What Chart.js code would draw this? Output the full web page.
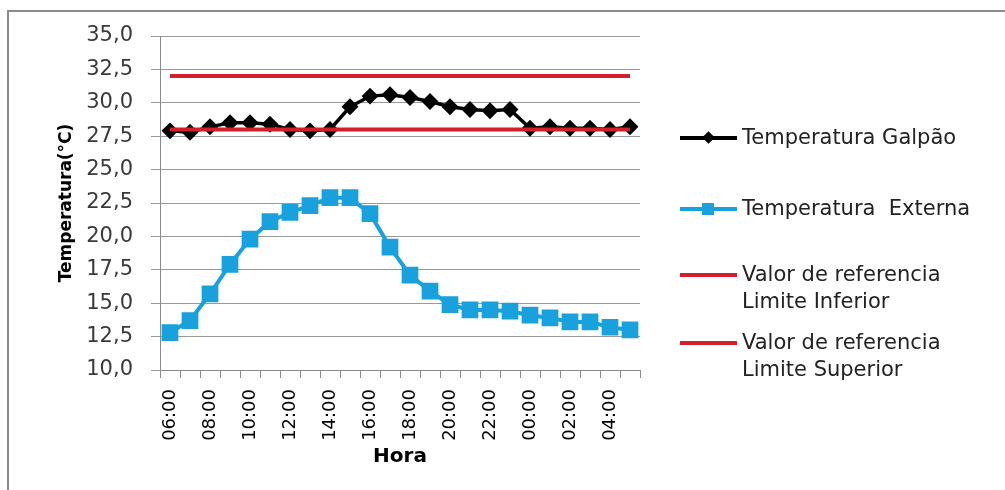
<!DOCTYPE html>
<html>
<head>
    <title>Temperatura Galpão</title>
    <script src="https://cdn.jsdelivr.net/npm/chart.js@4.4.0/dist/chart.umd.min.js"></script>
    <style>
        body { margin: 0; background: #fff; }
        #wrap { position: relative; width: 1005px; height: 490px; overflow: hidden; }
        #frame { position: absolute; left: 7px; top: 10px; width: 1100px; height: 600px;
                 border-top: 2px solid #8a8a8a; border-left: 2px solid #8a8a8a; }
        #chart { position: absolute; left: 0; top: 0; }
        .leg { position: absolute; left: 680px; font-family: "DejaVu Sans", sans-serif;
               font-size: 21px; color: #222; line-height: 27px; }
        .leg .ln { position: absolute; left: 0; width: 57px; height: 4px; }
        .leg .mk { position: absolute; }
        .leg .tx { position: absolute; left: 62px; white-space: pre; }
    </style>
</head>
<body>
<div id="wrap">
    <div id="frame"></div>
    <canvas id="chart" width="1005" height="490"></canvas>
    <div id="legend"></div>
</div>

<script>
    const hours = ['06:00', '07:00', '08:00', '09:00', '10:00', '11:00', '12:00', '13:00',
                   '14:00', '15:00', '16:00', '17:00', '18:00', '19:00', '20:00', '21:00',
                   '22:00', '23:00', '00:00', '01:00', '02:00', '03:00', '04:00', '05:00'];

    const tempGalpao = [27.9, 27.8, 28.2, 28.5, 28.5, 28.4, 28.0, 27.9, 28.0, 29.7, 30.5, 30.6,
                        30.4, 30.1, 29.7, 29.5, 29.4, 29.5, 28.1, 28.2, 28.1, 28.1, 28.0, 28.2];

    const tempExterna = [12.8, 13.7, 15.7, 17.9, 19.8, 21.1, 21.8, 22.3, 22.9, 22.9, 21.7, 19.2,
                         17.1, 15.9, 14.9, 14.5, 14.5, 14.4, 14.1, 13.9, 13.6, 13.6, 13.2, 13.0];

    const limiteInferior = [28.0, 28.0, 28.0, 28.0, 28.0, 28.0, 28.0, 28.0, 28.0, 28.0, 28.0, 28.0,
                            28.0, 28.0, 28.0, 28.0, 28.0, 28.0, 28.0, 28.0, 28.0, 28.0, 28.0, 28.0];

    const limiteSuperior = [32.0, 32.0, 32.0, 32.0, 32.0, 32.0, 32.0, 32.0, 32.0, 32.0, 32.0, 32.0,
                            32.0, 32.0, 32.0, 32.0, 32.0, 32.0, 32.0, 32.0, 32.0, 32.0, 32.0, 32.0];

    const BLACK = '#000000';
    const BLUE = '#18a1dd';
    const RED = '#d2202a';

    const datasets = [
        {
            label: 'Temperatura Galpão',
            data: tempGalpao,
            borderColor: BLACK, backgroundColor: BLACK,
            borderWidth: 3.5, pointStyle: 'rectRot', pointRadius: 6,
            order: 2
        },
        {
            label: 'Temperatura  Externa',
            data: tempExterna,
            borderColor: BLUE, backgroundColor: BLUE,
            borderWidth: 4, pointStyle: 'rect', pointRadius: 9,
            order: 3
        },
        {
            label: ['Valor de referencia', 'Limite Inferior'],
            data: limiteInferior,
            borderColor: RED, backgroundColor: RED,
            borderWidth: 4, pointRadius: 0,
            order: 1
        },
        {
            label: ['Valor de referencia', 'Limite Superior'],
            data: limiteSuperior,
            borderColor: RED, backgroundColor: RED,
            borderWidth: 4, pointRadius: 0,
            order: 1
        }
    ];

    const ctx = document.getElementById('chart').getContext('2d');
    new Chart(ctx, {
        type: 'line',
        data: { labels: hours, datasets: datasets },
        options: {
            responsive: false,
            animation: false,
            layout: { padding: { left: 52, top: 36, right: 365, bottom: 17 } },
            elements: { line: { tension: 0 }, point: { borderWidth: 0 } },
            plugins: { legend: { display: false }, tooltip: { enabled: false } },
            scales: {
                x: {
                    offset: true,
                    grid: { offset: true, drawOnChartArea: false, drawTicks: true,
                            tickLength: 8, color: '#8a8a8a' },
                    border: { color: '#8a8a8a', width: 1 },
                    ticks: {
                        autoSkip: false, minRotation: 90, maxRotation: 90, padding: 11,
                        color: '#000',
                        font: { family: 'DejaVu Sans', size: 18 },
                        callback: (v, i) => (i % 2 === 0 ? hours[i] : '')
                    },
                    title: {
                        display: true, text: 'Hora', color: '#000',
                        font: { family: 'DejaVu Sans', size: 20, weight: 'bold' }
                    },
                    afterFit: (s) => { s.height = 103; }
                },
                y: {
                    min: 10, max: 35,
                    grid: { color: '#999999', tickLength: 9 },
                    border: { color: '#8a8a8a', width: 1 },
                    ticks: {
                        stepSize: 2.5, padding: 18, color: '#3a3a3a',
                        font: { family: 'DejaVu Sans', size: 21 },
                        callback: (v) => v.toFixed(1).replace('.', ',')
                    },
                    title: {
                        display: true, text: 'Temperatura(°C)', color: '#000',
                        font: { family: 'DejaVu Sans', size: 17, weight: 'bold' }
                    },
                    afterFit: (s) => { s.width = 108; }
                }
            }
        }
    });

    // legend on the right, built from the datasets
    const legendTops = [124, 195, 261, 329];
    const legend = document.getElementById('legend');
    datasets.forEach((ds, i) => {
        const item = document.createElement('div');
        item.className = 'leg';
        item.style.top = legendTops[i] + 'px';
        const lines = Array.isArray(ds.label) ? ds.label : [ds.label];
        let html = '<div class="ln" style="top:12px;background:' + ds.borderColor + '"></div>';
        if (ds.pointStyle === 'rectRot') {
            html += '<div class="mk" style="left:24px;top:9px;width:9px;height:9px;' +
                    'transform:rotate(45deg);background:' + ds.borderColor + '"></div>';
        } else if (ds.pointStyle === 'rect') {
            html += '<div class="mk" style="left:22px;top:8px;width:12px;height:12px;' +
                    'background:' + ds.borderColor + '"></div>';
        }
        html += '<div class="tx">' + lines.join('\n') + '</div>';
        item.innerHTML = html;
        legend.appendChild(item);
    });
</script>
</body>
</html>
